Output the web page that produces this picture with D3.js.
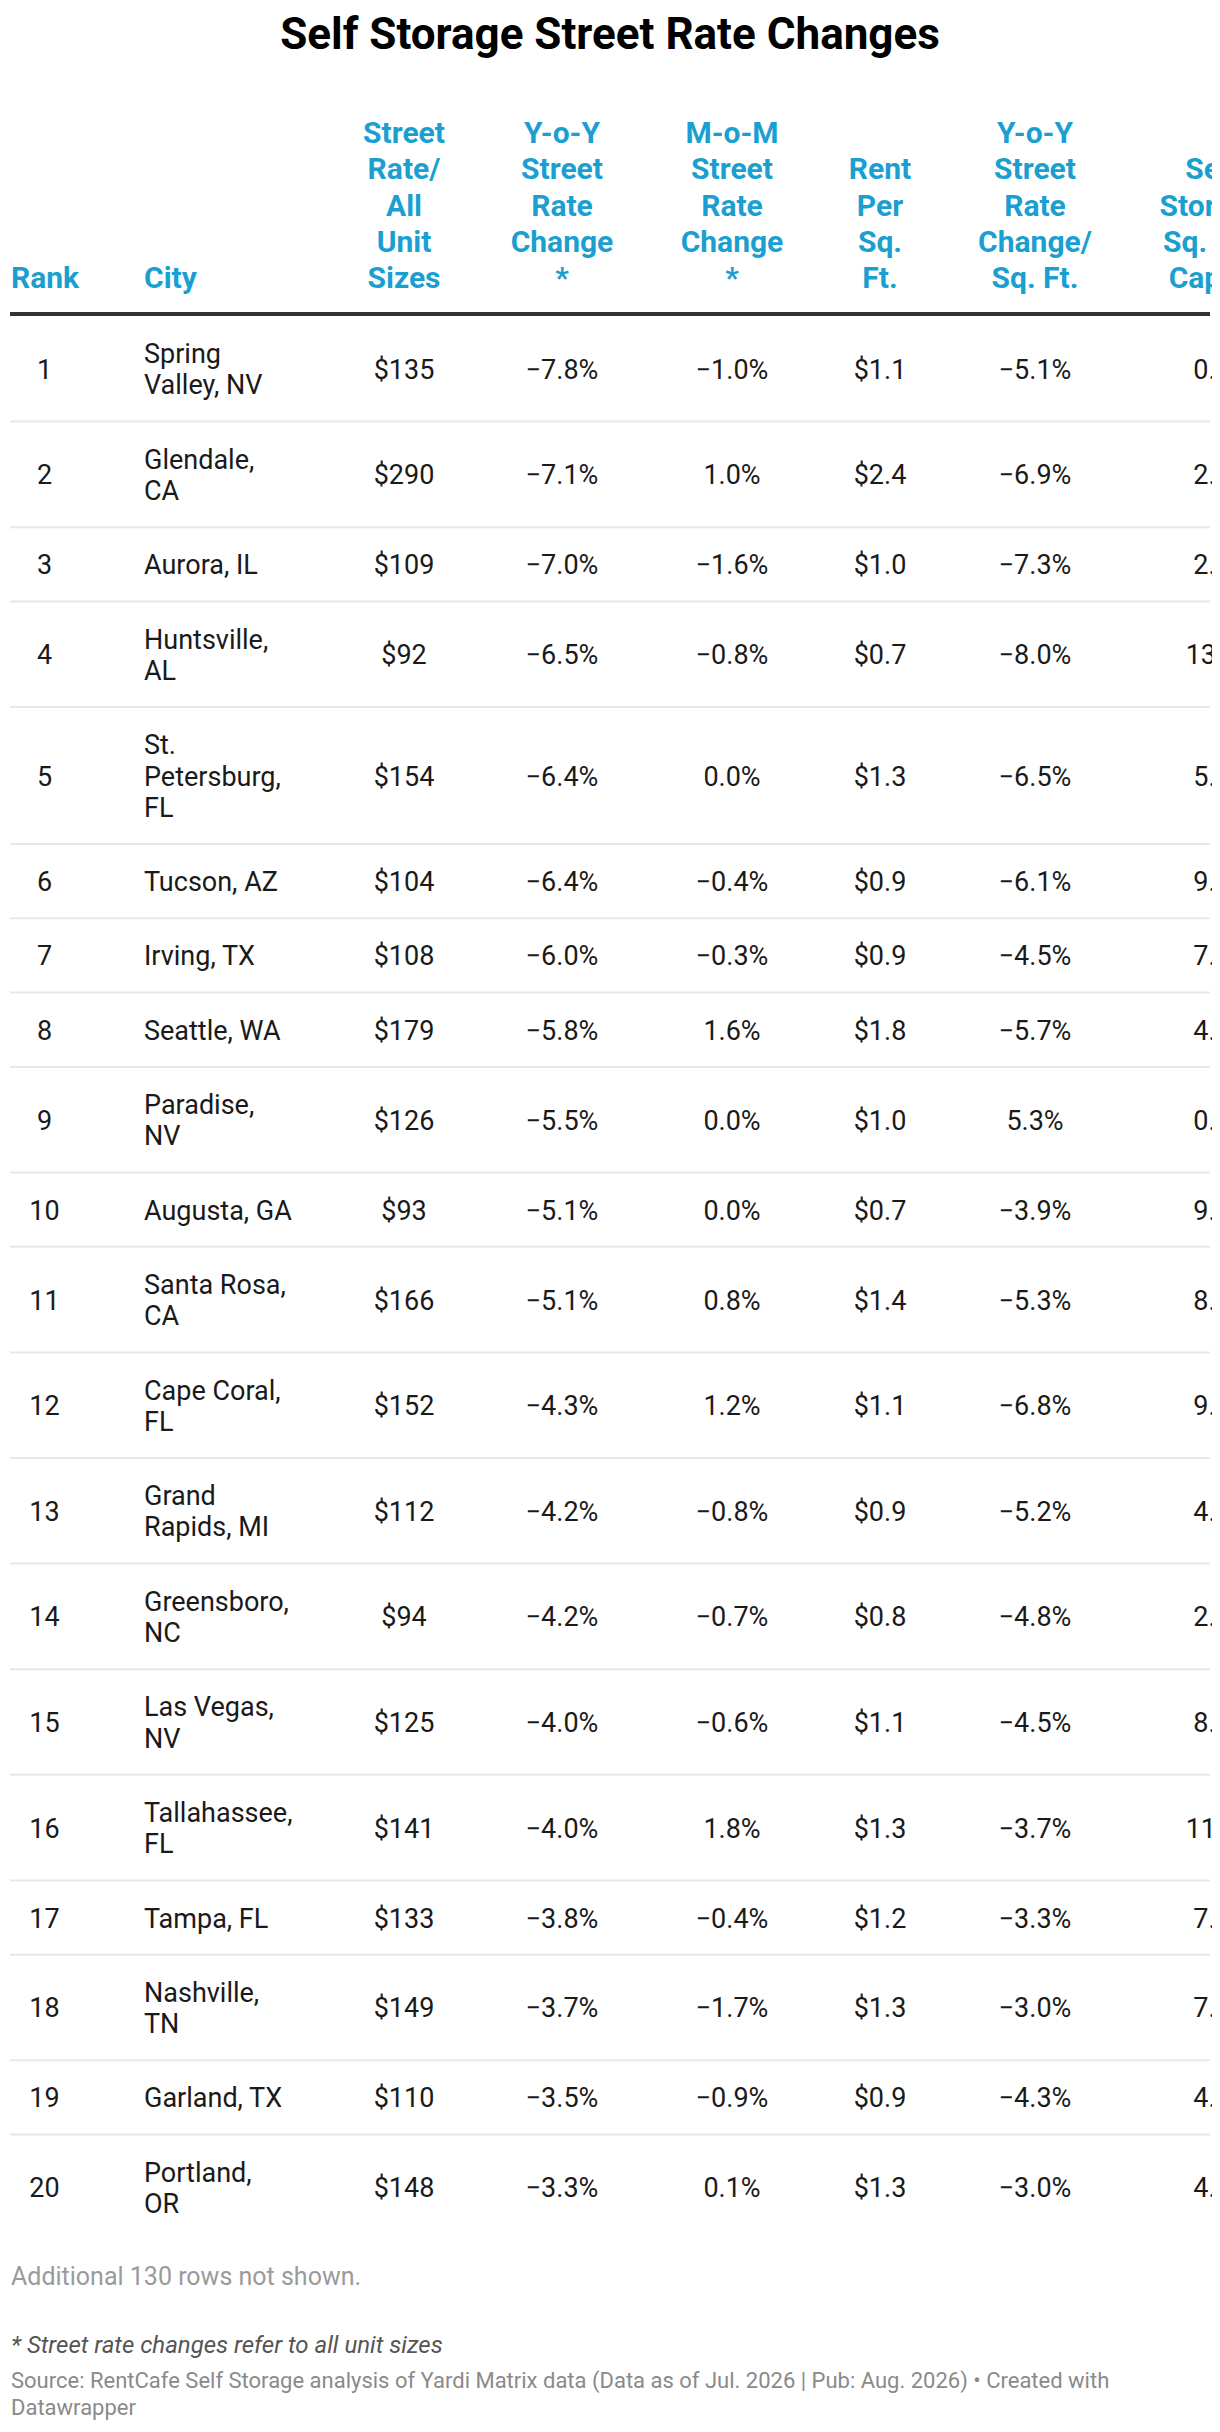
<!DOCTYPE html>
<meta charset="utf-8">
<style>
  body { margin: 0; background: #fff; }
  text { font-family: Roboto, "Noto Sans", sans-serif; }
</style>
<body>
<script src="https://cdn.jsdelivr.net/npm/d3@7"></script>
<script>

var ranks = [1, 2, 3, 4, 5, 6, 7, 8, 9, 10, 11, 12, 13, 14, 15, 16, 17, 18, 19, 20];
var cities = ["Spring Valley, NV", "Glendale, CA", "Aurora, IL", "Huntsville, AL",
              "St. Petersburg, FL", "Tucson, AZ", "Irving, TX", "Seattle, WA",
              "Paradise, NV", "Augusta, GA", "Santa Rosa, CA", "Cape Coral, FL",
              "Grand Rapids, MI", "Greensboro, NC", "Las Vegas, NV", "Tallahassee, FL",
              "Tampa, FL", "Nashville, TN", "Garland, TX", "Portland, OR"];
var streetRate = [135, 290, 109, 92, 154, 104, 108, 179, 126, 93,
                  166, 152, 112, 94, 125, 141, 133, 149, 110, 148];
var yoyChange = [-7.8, -7.1, -7.0, -6.5, -6.4, -6.4, -6.0, -5.8, -5.5, -5.1,
                 -5.1, -4.3, -4.2, -4.2, -4.0, -4.0, -3.8, -3.7, -3.5, -3.3];
var momChange = [-1.0, 1.0, -1.6, -0.8, 0.0, -0.4, -0.3, 1.6, 0.0, 0.0,
                 0.8, 1.2, -0.8, -0.7, -0.6, 1.8, -0.4, -1.7, -0.9, 0.1];
var rentSqFt = [1.1, 2.4, 1.0, 0.7, 1.3, 0.9, 0.9, 1.8, 1.0, 0.7,
                1.4, 1.1, 0.9, 0.8, 1.1, 1.3, 1.2, 1.3, 0.9, 1.3];
var yoySqFt = [-5.1, -6.9, -7.3, -8.0, -6.5, -6.1, -4.5, -5.7, 5.3, -3.9,
               -5.3, -6.8, -5.2, -4.8, -4.5, -3.7, -3.3, -3.0, -4.3, -3.0];
// last column is cut off at the right edge, only the first digits show
var sqFtCapita = [0.6, 2.4, 2.8, 13.4, 5.1, 9.3, 7.2, 4.5, 0.4, 9.7,
                  8.2, 9.6, 4.9, 2.7, 8.3, 11.5, 7.8, 7.3, 4.2, 4.6];

var headers = [["Rank"], ["City"],
               ["Street", "Rate/", "All", "Unit", "Sizes"],
               ["Y-o-Y", "Street", "Rate", "Change", "*"],
               ["M-o-M", "Street", "Rate", "Change", "*"],
               ["Rent", "Per", "Sq.", "Ft."],
               ["Y-o-Y", "Street", "Rate", "Change/", "Sq. Ft."],
               ["Self", "Storage", "Sq. Ft./", "Capita"]];

var title = "Self Storage Street Rate Changes";
var notShown = "Additional 130 rows not shown.";
var note = "* Street rate changes refer to all unit sizes";
var source = "Source: RentCafe Self Storage analysis of Yardi Matrix data (Data as of Jul. 2026 | Pub: Aug. 2026) • Created with Datawrapper";

// ---- layout ----
var width = 1220, height = 2432;
var blue = "#1b9fd1", ink = "#1a1a1a";
var bodySize = 27, headSize = 30;
var lineH = 31.3, rowPad = 43;
var headLineH = 36.2, headBase = 288;
var tableTop = 316, left = 10, right = 1210;

var keys = ["rank", "city", "rate", "yoy", "mom", "rent", "yoysq", "cap"];
var colX = d3.scaleOrdinal().domain(keys)
    .range([44.5, 144, 404, 562, 732, 880, 1035, 1212]);
var anchor = function(k){ return k == "city" ? "start" : "middle"; };

var fmtDollar = d3.format("$.0f"), fmtDollar1 = d3.format("$.1f"),
    fmtPct = function(v){ return d3.format(".1f")(v) + "%"; },
    fmt1 = d3.format(".1f");

var rows = ranks.map(function(r, i){
  return { rank: r, city: cities[i],
           rate: fmtDollar(streetRate[i]), yoy: fmtPct(yoyChange[i]),
           mom: fmtPct(momChange[i]), rent: fmtDollar1(rentSqFt[i]),
           yoysq: fmtPct(yoySqFt[i]), cap: fmt1(sqFtCapita[i]) };
});

var svg = d3.select("body").append("svg")
    .attr("width", width)
    .attr("height", height);

svg.append("rect").attr("width", width).attr("height", height).attr("fill", "#fff");

svg.append("defs").append("clipPath").attr("id", "tableClip")
  .append("rect").attr("x", 0).attr("y", 0).attr("width", right + 2).attr("height", height);

svg.append("text")
   .attr("x", width / 2)
   .attr("y", 49)
   .attr("text-anchor", "middle")
   .attr("font-size", 44)
   .attr("font-weight", "bold")
   .attr("fill", "#000")
   .text(title);

var table = svg.append("g").attr("clip-path", "url(#tableClip)");

// header, bottom aligned
var head = table.selectAll("text.head")
    .data(keys)
    .enter().append("text")
    .attr("class", "head")
    .attr("text-anchor", anchor)
    .attr("font-size", headSize)
    .attr("font-weight", "bold")
    .attr("fill", blue);

head.each(function(k, i){
  var lines = headers[i];
  d3.select(this).selectAll("tspan")
    .data(lines)
    .enter().append("tspan")
    .attr("x", colX(k) + (k == "rank" ? 0.5 : 0))
    .attr("y", function(d, j){ return headBase - (lines.length - 1 - j) * headLineH; })
    .text(function(d){ return d; });
});

table.append("line")
  .attr("x1", left).attr("x2", right)
  .attr("y1", tableTop - 2).attr("y2", tableTop - 2)
  .attr("stroke", "#333").attr("stroke-width", 4);

// wrap city names to the column width
var measure = svg.append("text").attr("font-size", bodySize).attr("visibility", "hidden");
var maxCity = 5.49 * bodySize;
function wrap(str){
  var words = str.split(" "), lines = [], cur = "";
  words.forEach(function(w){
    var test = cur ? cur + " " + w : w;
    measure.text(test);
    if (cur && measure.node().getComputedTextLength() > maxCity) {
      lines.push(cur); cur = w;
    } else cur = test;
  });
  lines.push(cur);
  return lines;
}

var y = tableTop;
rows.forEach(function(r){
  r.lines = wrap(r.city);
  r.top = y;
  r.h = rowPad + lineH * r.lines.length;
  y += r.h;
});
measure.remove();

var row = table.selectAll("g.row")
    .data(rows)
    .enter().append("g")
    .attr("class", "row")
    .attr("transform", function(d){ return "translate(0," + d.top + ")"; });

row.filter(function(d, i){ return i < rows.length - 1; })
  .append("line")
  .attr("x1", left).attr("x2", right)
  .attr("y1", function(d){ return d.h; }).attr("y2", function(d){ return d.h; })
  .attr("stroke", "#e8e8e8").attr("stroke-width", 2);

keys.forEach(function(k){
  row.append("text")
    .attr("text-anchor", anchor(k))
    .attr("font-size", bodySize)
    .attr("fill", ink)
    .each(function(d){
      var lines = k == "city" ? d.lines : [String(d[k])];
      var first = d.h / 2 - (lines.length - 1) * lineH / 2 + 10;
      d3.select(this).selectAll("tspan")
        .data(lines)
        .enter().append("tspan")
        .attr("x", colX(k))
        .attr("y", function(t, j){ return first + j * lineH; })
        .text(function(t){ return t; });
    });
});

// footer
svg.append("text")
   .attr("x", 11).attr("y", 2285)
   .attr("font-size", 25).attr("fill", "#9a9a9a")
   .text(notShown);

svg.append("text")
   .attr("x", 11).attr("y", 2353)
   .attr("font-size", 24).attr("font-style", "italic").attr("fill", "#555")
   .text(note);

var src = svg.append("text")
   .attr("font-size", 22).attr("fill", "#8a8a8a");
var words = source.split(" "), line = [], lineNo = 0;
var tspan = src.append("tspan").attr("x", 11).attr("y", 2388);
words.forEach(function(w){
  line.push(w);
  tspan.text(line.join(" "));
  if (tspan.node().getComputedTextLength() > right - 11 && line.length > 1) {
    line.pop();
    tspan.text(line.join(" "));
    line = [w];
    lineNo++;
    tspan = src.append("tspan").attr("x", 11).attr("y", 2388 + lineNo * 27).text(w);
  }
});

</script>
</body>
